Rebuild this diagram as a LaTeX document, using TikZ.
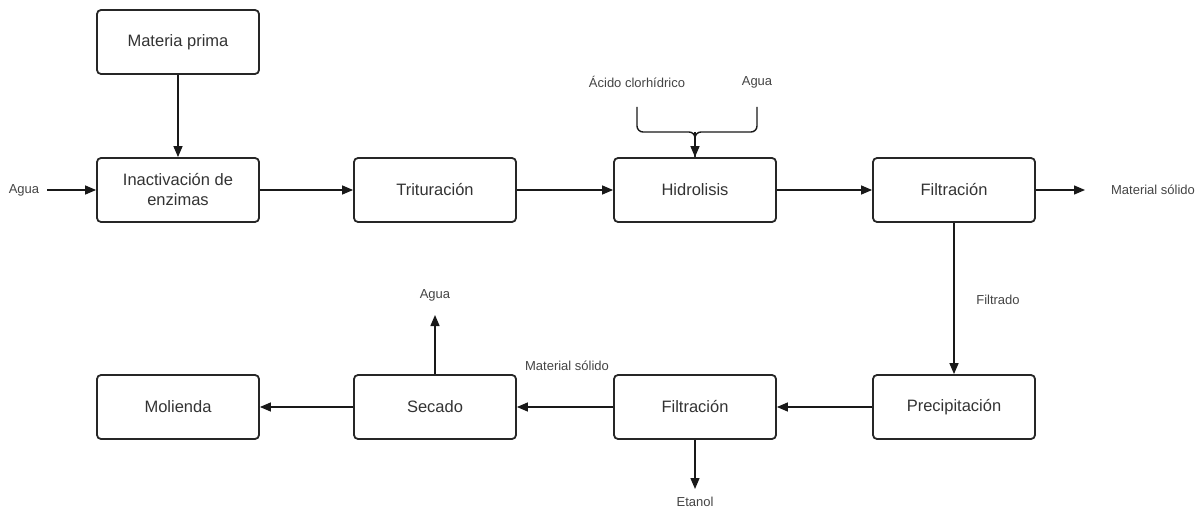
\documentclass[tikz,border=0pt]{standalone}
\usepackage{fontspec}
\setmainfont{Liberation Sans}
\usetikzlibrary{arrows.meta}
\definecolor{txt}{HTML}{333333}
\definecolor{lbl}{HTML}{444444}
\begin{document}
\begin{tikzpicture}[x=1pt,y=-1pt,
  procbox/.style={draw=black!85, line width=1.8pt, rounded corners=4pt, minimum width=162pt, minimum height=64pt, align=center, text=txt, font=\fontsize{16.5}{20}\selectfont},
  lab/.style={text=lbl, font=\fontsize{13}{15}\selectfont, inner sep=0pt},
  flow/.style={line width=1.4pt, draw=black!90, -{Triangle[length=11pt,width=9pt]}},
  plain/.style={line width=1.4pt, draw=black!90}]
\useasboundingbox (0,0) rectangle (1201,510);
\node[procbox] (mp)   at (178,42)  {Materia prima};
\node[procbox] (ina)  at (178,190) {Inactivación de\\enzimas};
\node[procbox] (tri)  at (435,190) {Trituración};
\node[procbox] (hid)  at (695,190) {Hidrolisis};
\node[procbox] (fil1) at (954,190) {Filtración};
\node[procbox] (pre)  at (954,407) {Precipitación};
\node[procbox] (fil2) at (695,407) {Filtración};
\node[procbox] (sec)  at (435,407) {Secado};
\node[procbox] (mol)  at (178,407) {Molienda};
% labels
\node[lab] (lagua1) at (24,190) {Agua};
\node[lab] (lacido) at (637,82) {Ácido clorhídrico};
\node[lab] (lagua2) at (757,82) {Agua};
\node[lab] (lms1) at (1153,190) {Material sólido};
\node[lab] (lfiltrado) at (998,300) {Filtrado};
\node[lab] (lagua3) at (435,295) {Agua};
\node[lab] (lms2) at (567,366) {Material sólido};
\node[lab] (letanol) at (695,502) {Etanol};
% coordinates
\coordinate (cin) at (47,190);
\coordinate (cms) at (1085,190);
\coordinate (cagua) at (435,315);
\coordinate (cetanol) at (695,489);
\coordinate (ca1) at (637,107);
\coordinate (ca2) at (757,107);
\coordinate (cj) at (695,132);
% connectors
\draw[flow] (mp) -- (ina);
\draw[flow] (cin) -- (ina.west);
\draw[flow] (ina) -- (tri);
\draw[flow] (tri) -- (hid);
\draw[flow] (hid) -- (fil1);
\draw[flow] (fil1.east) -- (cms);
\draw[flow] (fil1) -- (pre);
\draw[flow] (pre) -- (fil2);
\draw[flow] (fil2) -- (sec);
\draw[flow] (sec) -- (mol);
\draw[flow] (sec.north) -- (cagua);
\draw[flow] (fil2.south) -- (cetanol);
\draw[plain, rounded corners=6pt] (ca1) |- (cj) -- (hid.north);
\draw[plain, rounded corners=6pt] (ca2) |- (cj) -- (hid.north);
\draw[flow] (cj) -- (hid.north);
\end{tikzpicture}
\end{document}
